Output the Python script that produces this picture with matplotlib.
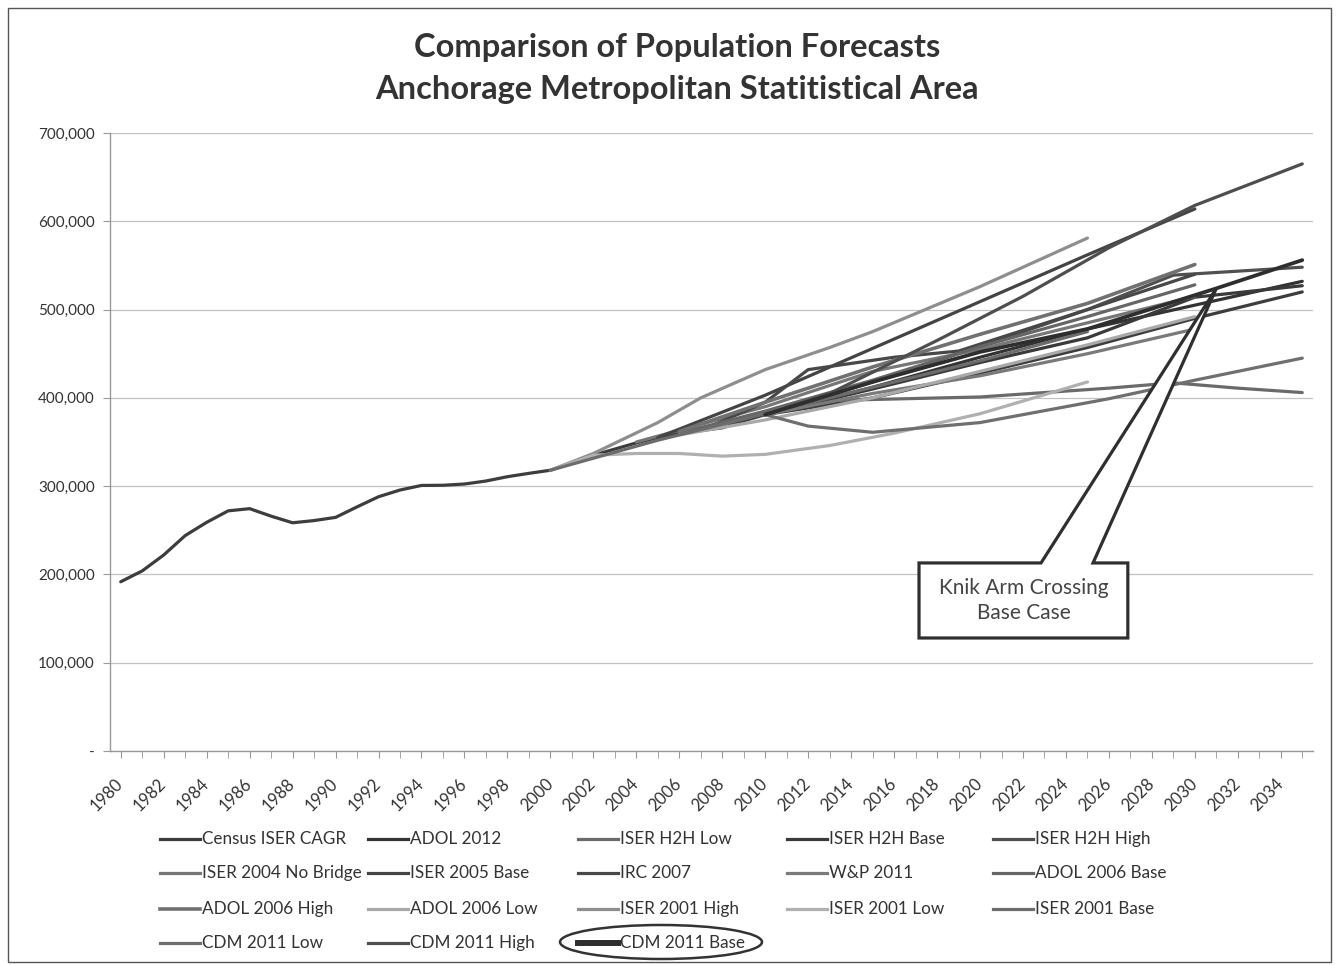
import matplotlib
matplotlib.use("Agg")
import matplotlib.pyplot as plt
from matplotlib.lines import Line2D
from matplotlib.patches import Polygon, Ellipse, Rectangle
from matplotlib.ticker import FuncFormatter, MultipleLocator
import matplotlib.transforms as mtransforms

plt.rcParams['font.family'] = ['Lato', 'DejaVu Sans']

# ---------------------------------------------------------------------------
# Data (population, persons)
# ---------------------------------------------------------------------------
census_years = [1980, 1981, 1982, 1983, 1984, 1985, 1986, 1987, 1988, 1989,
                1990, 1991, 1992, 1993, 1994, 1995, 1996, 1997, 1998, 1999,
                2000, 2001, 2002, 2003, 2004, 2005, 2006, 2007, 2008, 2009,
                2010, 2015, 2020, 2025, 2030, 2035]
census_iser_cagr = [191700, 204000, 222000, 244000, 259000, 272000, 274500,
                    266000, 258500, 261000, 264600, 276500, 288000, 295600,
                    300800, 301000, 302400, 305800, 310700, 314500, 318000,
                    326500, 335000, 342000, 349000, 355000, 360000, 363000,
                    366000, 374000, 381000, 400000, 428000, 457000, 490000,
                    520000]

adol_2012_years = [2010, 2015, 2020, 2025, 2030, 2035]
adol_2012 = [381000, 412000, 446000, 478000, 505000, 532000]

iser_h2h_low_years = [2010, 2013, 2020, 2026, 2029, 2032, 2035]
iser_h2h_low = [381000, 397000, 401000, 411000, 417000, 411000, 406000]

iser_h2h_base_years = [2010, 2015, 2020, 2025, 2030, 2035]
iser_h2h_base = [381000, 410000, 440000, 468000, 514000, 527000]

iser_h2h_high_years = [2010, 2015, 2020, 2025, 2029, 2035]
iser_h2h_high = [381000, 418000, 458000, 500000, 539000, 548000]

iser_2004_nb_years = [2004, 2010, 2015, 2020, 2025, 2030]
iser_2004_nb = [350000, 390000, 430000, 455000, 485000, 515000]

iser_2005_base_years = [2005, 2010, 2015, 2020, 2025, 2030]
iser_2005_base = [355000, 403000, 456000, 509000, 562000, 614000]

irc_2007_years = [2007, 2010, 2012, 2016, 2019, 2025, 2030]
irc_2007 = [363000, 395000, 432000, 446000, 453000, 500000, 540000]

wp_2011_years = [2010, 2015, 2020, 2025, 2030]
wp_2011 = [381000, 405000, 425000, 450000, 478000]

adol_2006_base_years = [2006, 2010, 2015, 2020, 2025, 2030]
adol_2006_base = [360000, 385000, 420000, 458000, 492000, 528000]

adol_2006_high_years = [2006, 2010, 2015, 2020, 2025, 2030]
adol_2006_high = [362000, 395000, 435000, 472000, 507000, 551000]

adol_2006_low_years = [2006, 2010, 2015, 2020, 2025, 2030]
adol_2006_low = [358000, 375000, 400000, 430000, 460000, 492000]

iser_2001_high_years = [2000, 2002, 2005, 2007, 2010, 2013, 2015, 2020, 2025]
iser_2001_high = [318000, 337000, 372000, 400000, 432000, 457000, 475000,
                  526000, 581000]

iser_2001_low_years = [2000, 2002, 2004, 2006, 2008, 2010, 2013, 2016, 2020, 2025]
iser_2001_low = [318000, 335000, 337000, 337000, 334000, 336000, 346000,
                 360000, 382000, 418000]

iser_2001_base_years = [2000, 2005, 2010, 2015, 2020, 2025]
iser_2001_base = [318000, 352000, 382000, 412000, 442000, 475000]

cdm_2011_low_years = [2010, 2012, 2015, 2020, 2026, 2030, 2035]
cdm_2011_low = [381000, 368000, 361000, 372000, 399000, 420000, 445000]

cdm_2011_high_years = [2010, 2013, 2018, 2022, 2026, 2030, 2035]
cdm_2011_high = [381000, 405000, 465000, 515000, 570000, 618000, 665000]

cdm_2011_base_years = [2010, 2015, 2020, 2025, 2031, 2035]
cdm_2011_base = [381000, 418000, 452000, 478000, 524000, 556000]

series_names = ["Census ISER CAGR", "ADOL 2012", "ISER H2H Low", "ISER H2H Base",
                "ISER H2H High", "ISER 2004 No Bridge", "ISER 2005 Base",
                "IRC 2007", "W&P 2011", "ADOL 2006 Base", "ADOL 2006 High",
                "ADOL 2006 Low", "ISER 2001 High", "ISER 2001 Low",
                "ISER 2001 Base", "CDM 2011 Low", "CDM 2011 High",
                "CDM 2011 Base"]

year_ticks = list(range(1980, 2035, 2))
callout_text = "Knik Arm Crossing\nBase Case"
callout_year = 2031

# ---------------------------------------------------------------------------
# Styling
# ---------------------------------------------------------------------------
series = [
    (census_years, census_iser_cagr, "#3d3d3d", 2.3),
    (adol_2012_years, adol_2012, "#333333", 2.3),
    (iser_h2h_low_years, iser_h2h_low, "#6a6a6a", 2.3),
    (iser_h2h_base_years, iser_h2h_base, "#3a3a3a", 2.3),
    (iser_h2h_high_years, iser_h2h_high, "#505050", 2.3),
    (iser_2004_nb_years, iser_2004_nb, "#777777", 2.3),
    (iser_2005_base_years, iser_2005_base, "#444444", 2.3),
    (irc_2007_years, irc_2007, "#484848", 2.3),
    (wp_2011_years, wp_2011, "#7a7a7a", 2.3),
    (adol_2006_base_years, adol_2006_base, "#666666", 2.3),
    (adol_2006_high_years, adol_2006_high, "#717171", 2.6),
    (adol_2006_low_years, adol_2006_low, "#a9a9a9", 2.3),
    (iser_2001_high_years, iser_2001_high, "#8e8e8e", 2.3),
    (iser_2001_low_years, iser_2001_low, "#b0b0b0", 2.3),
    (iser_2001_base_years, iser_2001_base, "#6c6c6c", 2.3),
    (cdm_2011_low_years, cdm_2011_low, "#6f6f6f", 2.3),
    (cdm_2011_high_years, cdm_2011_high, "#4e4e4e", 2.3),
    (cdm_2011_base_years, cdm_2011_base, "#2e2e2e", 2.7),
]

W, H = 1337, 965
fig = plt.figure(figsize=(W / 100, H / 100), dpi=100)
fig.patch.set_facecolor("white")


def fx(px):
    return px / W


def fy(py):
    return 1 - py / H


ax = fig.add_axes([fx(110), fy(751), fx(1313) - fx(110), fy(133) - fy(751)])

for i, (xs, ys, col, lw) in enumerate(series):
    z = 5 if series_names[i] == "CDM 2011 Base" else 3
    ax.plot(xs, ys, color=col, lw=lw, solid_capstyle="round",
            solid_joinstyle="round", zorder=z)

ax.set_xlim(1979.5, 2035.5)
ax.set_ylim(0, 700000)

ax.yaxis.set_major_locator(MultipleLocator(100000))
ax.yaxis.set_major_formatter(FuncFormatter(lambda v, p: "-" if v == 0 else f"{int(v):,}"))
ax.grid(axis="y", color="#c2c2c2", lw=0.9, zorder=0)
ax.set_axisbelow(True)

ax.set_xticks(year_ticks)
ax.set_xticks(list(range(1980, 2036)), minor=True)
ax.set_xticklabels([str(y) for y in year_ticks], rotation=45, ha="right",
                   va="center", rotation_mode="anchor")
offset = mtransforms.ScaledTranslation(6 / 100, 0, fig.dpi_scale_trans)
for lbl in ax.get_xticklabels():
    lbl.set_transform(lbl.get_transform() + offset)

ax.tick_params(axis="x", which="both", length=5, color="#999999", pad=17,
               labelsize=12, labelcolor="#333333")
ax.tick_params(axis="y", length=5, color="#999999", pad=6, labelsize=11,
               labelcolor="#333333")
for s in ("top", "right"):
    ax.spines[s].set_visible(False)
for s in ("left", "bottom"):
    ax.spines[s].set_color("#999999")
    ax.spines[s].set_linewidth(1.0)

# Title
fig.text(fx(677), fy(47), "Comparison of Population Forecasts", ha="center",
         va="center", fontsize=23.5, fontweight="bold", color="#333333")
fig.text(fx(677), fy(90), "Anchorage Metropolitan Statitistical Area",
         ha="center", va="center", fontsize=23.5, fontweight="bold",
         color="#333333")

# Callout pointing to the CDM 2011 Base line
tip_val = cdm_2011_base[cdm_2011_base_years.index(callout_year)]
bx0, bx1 = 2017.16, 2026.88
by0, by1 = 128000, 213000
w0, w1 = 2022.84, 2025.26
poly = Polygon([(bx0, by1), (w0, by1), (callout_year, tip_val), (w1, by1),
                (bx1, by1), (bx1, by0), (bx0, by0)], closed=True,
               facecolor="white", edgecolor="#2f2f2f", lw=2.3, zorder=6,
               joinstyle="miter")
ax.add_patch(poly)
ax.text((bx0 + bx1) / 2, (by0 + by1) / 2, callout_text, ha="center",
        va="center", fontsize=15, color="#444444", zorder=7,
        linespacing=1.3)

# Legend laid out in a fixed 5-column grid
col_x = [160, 368, 578, 787, 993]
row_y = [839, 873, 909, 943]
for i, name in enumerate(series_names):
    r, c = divmod(i, 5)
    xs, ys, col, lw = series[i]
    x0 = col_x[c]
    y0 = row_y[r]
    fig.add_artist(Line2D([fx(x0), fx(x0 + 40)], [fy(y0), fy(y0)],
                          transform=fig.transFigure, color=col,
                          lw=lw + (1.6 if name == "CDM 2011 Base" else 0)))
    fig.text(fx(x0 + 42), fy(y0), name, ha="left", va="center",
             fontsize=12.3, color="#333333")

fig.add_artist(Ellipse((fx(661), fy(942)), fx(202), 34 / H,
                       transform=fig.transFigure, fill=False,
                       edgecolor="#333333", lw=1.8))

# Chart frame
fig.add_artist(Rectangle((fx(8), fy(962)), fx(1323), (962 - 8) / H,
                         transform=fig.transFigure, fill=False,
                         edgecolor="#555555", lw=1.0))

fig.savefig("out.png", dpi=100, facecolor="white")
